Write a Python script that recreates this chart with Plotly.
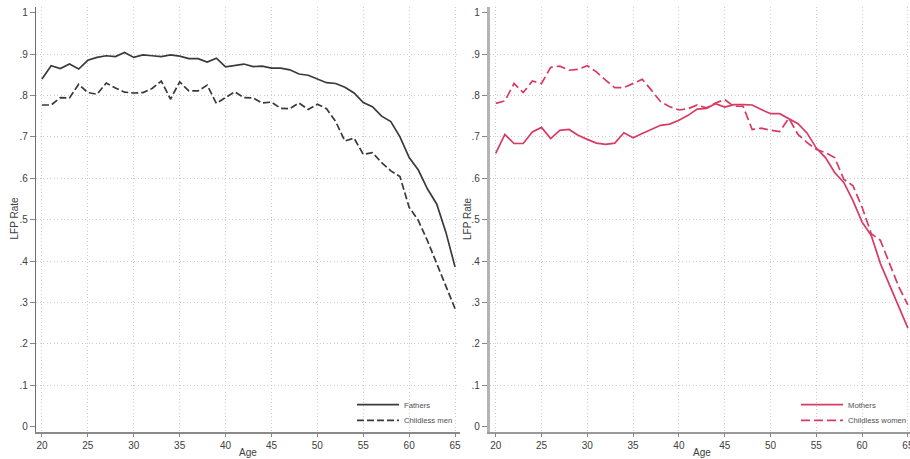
import plotly.graph_objects as go

# Labour-force participation by age, 20-65
ages = list(range(20, 66))

fathers = [0.840, 0.872, 0.865, 0.876, 0.864, 0.885, 0.892, 0.896, 0.894, 0.904,
           0.892, 0.898, 0.896, 0.894, 0.898, 0.895, 0.889, 0.889, 0.881, 0.890,
           0.869, 0.873, 0.876, 0.870, 0.871, 0.866, 0.866, 0.862, 0.852, 0.849,
           0.840, 0.831, 0.829, 0.820, 0.806, 0.783, 0.773, 0.750, 0.737, 0.700,
           0.650, 0.620, 0.574, 0.538, 0.470, 0.386]

childless_men = [0.777, 0.777, 0.795, 0.794, 0.827, 0.807, 0.803, 0.830, 0.818, 0.808,
                 0.806, 0.807, 0.817, 0.835, 0.791, 0.833, 0.811, 0.811, 0.825, 0.781,
                 0.795, 0.809, 0.795, 0.794, 0.782, 0.784, 0.769, 0.768, 0.782, 0.766,
                 0.779, 0.768, 0.737, 0.690, 0.697, 0.658, 0.662, 0.638, 0.618, 0.604,
                 0.530, 0.498, 0.449, 0.393, 0.337, 0.285]

mothers = [0.660, 0.706, 0.684, 0.684, 0.712, 0.723, 0.696, 0.716, 0.718, 0.704,
           0.694, 0.685, 0.682, 0.685, 0.710, 0.698, 0.708, 0.718, 0.728, 0.731,
           0.740, 0.752, 0.767, 0.769, 0.780, 0.772, 0.778, 0.778, 0.777, 0.766,
           0.756, 0.756, 0.744, 0.732, 0.709, 0.673, 0.650, 0.614, 0.590, 0.546,
           0.494, 0.462, 0.394, 0.342, 0.290, 0.238]

childless_women = [0.781, 0.787, 0.829, 0.807, 0.835, 0.829, 0.868, 0.871, 0.861, 0.863,
                   0.872, 0.857, 0.837, 0.819, 0.819, 0.829, 0.839, 0.813, 0.785, 0.773,
                   0.765, 0.768, 0.777, 0.770, 0.782, 0.790, 0.774, 0.774, 0.718, 0.721,
                   0.716, 0.713, 0.745, 0.706, 0.686, 0.670, 0.662, 0.650, 0.598, 0.582,
                   0.530, 0.466, 0.450, 0.394, 0.338, 0.294]

x_ticks = list(range(20, 70, 5))
y_ticks = [round(0.1 * i, 1) for i in range(11)]
y_ticktext = ["0", ".1", ".2", ".3", ".4", ".5", ".6", ".7", ".8", ".9", "1"]
y_gridvals = y_ticks[1:-1]

W, H = 910, 459
FONT = "Liberation Sans, Arial, sans-serif"
DARK = "#3a3a3a"
RED = "#d93a61"
TICK_COLOR = "#404040"
GRID = "#cdcdcd"
GRID_DASH = "1px,2.5px"

fig = go.Figure()

fig.add_trace(go.Scatter(x=ages, y=fathers, name="Fathers", mode="lines",
                         line=dict(color=DARK, width=1.7),
                         xaxis="x", yaxis="y", legend="legend"))
fig.add_trace(go.Scatter(x=ages, y=childless_men, name="Childless men", mode="lines",
                         line=dict(color=DARK, width=1.7, dash="7px,3px"),
                         xaxis="x", yaxis="y", legend="legend2"))
fig.add_trace(go.Scatter(x=ages, y=mothers, name="Mothers", mode="lines",
                         line=dict(color=RED, width=1.7),
                         xaxis="x2", yaxis="y2", legend="legend3"))
fig.add_trace(go.Scatter(x=ages, y=childless_women, name="Childless women", mode="lines",
                         line=dict(color=RED, width=1.7, dash="9px,4px"),
                         xaxis="x2", yaxis="y2", legend="legend4"))

y_dom = [(H - 431.7) / H, (H - 6.7) / H]
y_range = [-0.0121, 1.0145]


def x_axis(domain, rng, linecolor):
    return dict(
        domain=domain, range=rng, tickmode="array", tickvals=x_ticks,
        ticks="outside", ticklen=4, tickcolor="#888", tickwidth=1,
        showline=True, linecolor=linecolor, linewidth=1.5,
        showgrid=True, griddash=GRID_DASH, gridcolor=GRID, gridwidth=1,
        zeroline=False, tickfont=dict(family=FONT, size=10, color=TICK_COLOR),
        ticklabeloverflow="allow", fixedrange=True,
    )


def y_axis(anchor, linecolor, linewidth):
    return dict(
        domain=y_dom, range=y_range, anchor=anchor, tickmode="array",
        tickvals=y_ticks, ticktext=y_ticktext,
        ticks="outside", ticklen=5, tickcolor="#888", tickwidth=1,
        showline=True, linecolor=linecolor, linewidth=linewidth,
        showgrid=False, zeroline=False,
        minor=dict(tickvals=y_gridvals, showgrid=True, griddash=GRID_DASH,
                   gridcolor=GRID, gridwidth=1, ticks=""),
        tickfont=dict(family=FONT, size=10, color=TICK_COLOR),
        fixedrange=True,
    )


left_dom = [36 / W, 460 / W]
right_dom = [489.7 / W, 1.0]

legend_common = dict(
    font=dict(family=FONT, size=7.7, color="#505050"),
    bgcolor="rgba(0,0,0,0)", borderwidth=0, itemwidth=42,
    xanchor="left", yanchor="middle",
)

label_font = dict(family=FONT, size=10, color=TICK_COLOR)
centered = dict(xref="paper", yref="paper", showarrow=False,
                xanchor="center", yanchor="middle", font=label_font)

fig.update_layout(
    width=W, height=H,
    margin=dict(l=0, r=0, t=0, b=0, autoexpand=False),
    paper_bgcolor="white", plot_bgcolor="white",
    showlegend=True,
    xaxis=x_axis(left_dom, [19.35, 65.54], "#8a8a8a"),
    yaxis=y_axis("x", "#6e6e6e", 1.2),
    xaxis2=x_axis(right_dom, [19.345, 19.345 + 420.3 / 9.16], "#9a9a9a"),
    yaxis2=y_axis("x2", "#b4b4b4", 2.6),
    legend=dict(x=352 / W, y=(H - 404.7) / H, **legend_common),
    legend2=dict(x=352 / W, y=(H - 420.3) / H, **legend_common),
    legend3=dict(x=796 / W, y=(H - 404.7) / H, **legend_common),
    legend4=dict(x=796 / W, y=(H - 420.3) / H, **legend_common),
    annotations=[
        dict(text="Age", x=248 / W, y=(H - 452.7) / H, **centered),
        dict(text="Age", x=702 / W, y=(H - 452.7) / H, **centered),
        dict(text="LFP Rate", x=13.5 / W, y=(H - 219) / H, textangle=-90, **centered),
        dict(text="LFP Rate", x=467 / W, y=(H - 219) / H, textangle=-90, **centered),
    ],
)

fig.write_html("out.html", config={"displayModeBar": False})
